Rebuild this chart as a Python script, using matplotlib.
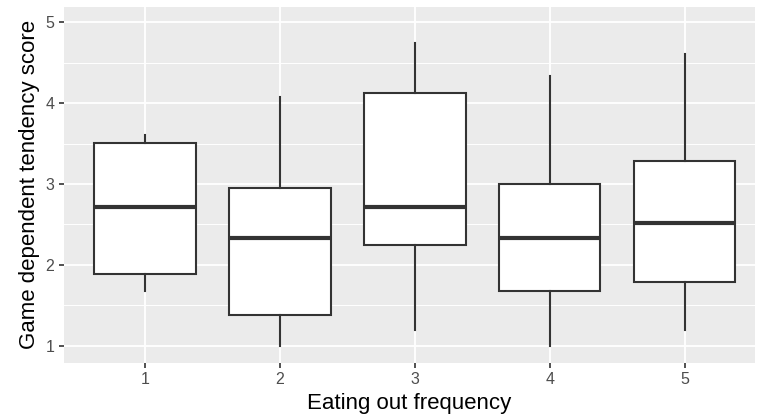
import matplotlib.pyplot as plt
from matplotlib.ticker import MultipleLocator

plt.rcParams['font.family'] = ['Liberation Sans', 'DejaVu Sans']

# values
groups = ["1", "2", "3", "4", "5"]
whisker_low = [1.67, 1.00, 1.19, 1.00, 1.19]
q1 = [1.88, 1.38, 2.25, 1.67, 1.79]
medians = [2.71, 2.33, 2.71, 2.33, 2.52]
q3 = [3.51, 2.95, 4.12, 3.00, 3.29]
whisker_high = [3.61, 4.08, 4.75, 4.33, 4.61]

stats = []
for i, g in enumerate(groups):
    stats.append({"label": g, "whislo": whisker_low[i], "q1": q1[i], "med": medians[i],
                  "q3": q3[i], "whishi": whisker_high[i], "fliers": []})

fig = plt.figure(figsize=(7.59, 4.18), dpi=100)
ax = fig.add_axes([64 / 759, 1 - 362.5 / 418, (755 - 64) / 759, (362.5 - 7) / 418])
ax.set_facecolor('#EBEBEB')

line_col = '#333333'
ax.bxp(stats, positions=range(1, len(groups) + 1), widths=0.75, patch_artist=True,
       showcaps=False, showfliers=False,
       boxprops=dict(facecolor='white', edgecolor=line_col, linewidth=1.5),
       whiskerprops=dict(color=line_col, linewidth=1.5),
       medianprops=dict(color=line_col, linewidth=3.0, solid_capstyle='butt'))

ax.set_xlim(0.4, 5.52)
ax.set_ylim(0.79, 5.19)
ax.yaxis.set_major_locator(MultipleLocator(1))
ax.yaxis.set_minor_locator(MultipleLocator(0.5))
ax.set_xticks(range(1, len(groups) + 1))
ax.set_xticklabels(groups)

ax.grid(which='major', color='white', linewidth=1.3)
ax.grid(which='minor', axis='y', color='white', linewidth=0.7)
ax.set_axisbelow(True)
for s in ax.spines.values():
    s.set_visible(False)

ax.tick_params(which='major', length=3.6, width=1.2, color='#333333', labelcolor='#4D4D4D',
               labelsize=11.5, pad=3.5)
ax.tick_params(which='minor', length=0)

ax.set_xlabel("Eating out frequency", fontsize=16, color='black', labelpad=4)
ax.set_ylabel("Game dependent tendency score", fontsize=16, color='black', labelpad=4)

plt.savefig("out.png", dpi=100)
